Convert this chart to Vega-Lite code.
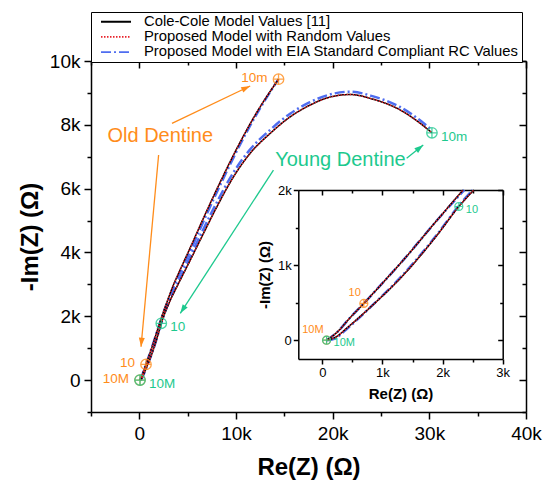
{
  "$schema": "https://vega.github.io/schema/vega-lite/v6.json",
  "width": 435,
  "height": 351,
  "autosize": "none",
  "padding": {"left": 91, "top": 61, "right": 29, "bottom": 73},
  "background": "white",
  "config": {
    "view": {"stroke": null},
    "font": "Liberation Sans",
    "axis": {"grid": false, "domainColor": "black", "domainWidth": 1.5, "tickColor": "black", "tickWidth": 1.5, "labelColor": "black", "titleColor": "black", "labelFont": "Liberation Sans", "titleFont": "Liberation Sans", "labelOverlap": false, "labelFlush": false}
  },
  "datasets": {
    "curves": [
      {"model": "CC", "s": "Old", "re": 70, "im": 0}, {"model": "CC", "s": "Old", "re": 250, "im": 110}, {"model": "CC", "s": "Old", "re": 450, "im": 290}, {"model": "CC", "s": "Old", "re": 690, "im": 490}, {"model": "CC", "s": "Old", "re": 1000, "im": 760}, {"model": "CC", "s": "Old", "re": 1350, "im": 1070}, {"model": "CC", "s": "Old", "re": 1900, "im": 1590}, {"model": "CC", "s": "Old", "re": 2340, "im": 2000}, {"model": "CC", "s": "Old", "re": 2900, "im": 2480}, {"model": "CC", "s": "Old", "re": 3500, "im": 2960}, {"model": "CC", "s": "Old", "re": 4200, "im": 3440}, {"model": "CC", "s": "Old", "re": 5270, "im": 4150}, {"model": "CC", "s": "Old", "re": 6820, "im": 5200}, {"model": "CC", "s": "Old", "re": 8440, "im": 6250}, {"model": "CC", "s": "Old", "re": 10160, "im": 7300}, {"model": "CC", "s": "Old", "re": 12090, "im": 8360}, {"model": "CC", "s": "Old", "re": 14400, "im": 9430},
      {"model": "RND", "s": "Old", "re": 70, "im": 0}, {"model": "RND", "s": "Old", "re": 250, "im": 110}, {"model": "RND", "s": "Old", "re": 450, "im": 290}, {"model": "RND", "s": "Old", "re": 690, "im": 490}, {"model": "RND", "s": "Old", "re": 1000, "im": 760}, {"model": "RND", "s": "Old", "re": 1350, "im": 1070}, {"model": "RND", "s": "Old", "re": 1900, "im": 1590}, {"model": "RND", "s": "Old", "re": 2340, "im": 2000}, {"model": "RND", "s": "Old", "re": 2900, "im": 2480}, {"model": "RND", "s": "Old", "re": 3500, "im": 2960}, {"model": "RND", "s": "Old", "re": 4200, "im": 3440}, {"model": "RND", "s": "Old", "re": 5270, "im": 4150}, {"model": "RND", "s": "Old", "re": 6820, "im": 5200}, {"model": "RND", "s": "Old", "re": 8440, "im": 6250}, {"model": "RND", "s": "Old", "re": 10160, "im": 7300}, {"model": "RND", "s": "Old", "re": 12090, "im": 8360}, {"model": "RND", "s": "Old", "re": 14400, "im": 9430},
      {"model": "EIA", "s": "Old", "re": 70, "im": 0}, {"model": "EIA", "s": "Old", "re": 250, "im": 110}, {"model": "EIA", "s": "Old", "re": 450, "im": 290}, {"model": "EIA", "s": "Old", "re": 690, "im": 490}, {"model": "EIA", "s": "Old", "re": 1000, "im": 760}, {"model": "EIA", "s": "Old", "re": 1350, "im": 1070}, {"model": "EIA", "s": "Old", "re": 1900, "im": 1590}, {"model": "EIA", "s": "Old", "re": 2360, "im": 2000}, {"model": "EIA", "s": "Old", "re": 2950, "im": 2470}, {"model": "EIA", "s": "Old", "re": 3600, "im": 2960}, {"model": "EIA", "s": "Old", "re": 4330, "im": 3440}, {"model": "EIA", "s": "Old", "re": 5420, "im": 4150}, {"model": "EIA", "s": "Old", "re": 6970, "im": 5200}, {"model": "EIA", "s": "Old", "re": 8580, "im": 6250}, {"model": "EIA", "s": "Old", "re": 10280, "im": 7300}, {"model": "EIA", "s": "Old", "re": 12180, "im": 8360}, {"model": "EIA", "s": "Old", "re": 14400, "im": 9430},
      {"model": "CC", "s": "Young", "re": 70, "im": 0}, {"model": "CC", "s": "Young", "re": 220, "im": 40}, {"model": "CC", "s": "Young", "re": 420, "im": 170}, {"model": "CC", "s": "Young", "re": 800, "im": 440}, {"model": "CC", "s": "Young", "re": 1350, "im": 870}, {"model": "CC", "s": "Young", "re": 1900, "im": 1390}, {"model": "CC", "s": "Young", "re": 2270, "im": 1780}, {"model": "CC", "s": "Young", "re": 2520, "im": 2000}, {"model": "CC", "s": "Young", "re": 3150, "im": 2470}, {"model": "CC", "s": "Young", "re": 3890, "im": 2930}, {"model": "CC", "s": "Young", "re": 5270, "im": 3760}, {"model": "CC", "s": "Young", "re": 6640, "im": 4600}, {"model": "CC", "s": "Young", "re": 8020, "im": 5430}, {"model": "CC", "s": "Young", "re": 9740, "im": 6370}, {"model": "CC", "s": "Young", "re": 11470, "im": 7110}, {"model": "CC", "s": "Young", "re": 13530, "im": 7730}, {"model": "CC", "s": "Young", "re": 15600, "im": 8250}, {"model": "CC", "s": "Young", "re": 17670, "im": 8620}, {"model": "CC", "s": "Young", "re": 19500, "im": 8850}, {"model": "CC", "s": "Young", "re": 21800, "im": 8950}, {"model": "CC", "s": "Young", "re": 24200, "im": 8800}, {"model": "CC", "s": "Young", "re": 26960, "im": 8470}, {"model": "CC", "s": "Young", "re": 29000, "im": 8060}, {"model": "CC", "s": "Young", "re": 30270, "im": 7750},
      {"model": "RND", "s": "Young", "re": 70, "im": 0}, {"model": "RND", "s": "Young", "re": 220, "im": 40}, {"model": "RND", "s": "Young", "re": 420, "im": 170}, {"model": "RND", "s": "Young", "re": 800, "im": 440}, {"model": "RND", "s": "Young", "re": 1350, "im": 870}, {"model": "RND", "s": "Young", "re": 1900, "im": 1390}, {"model": "RND", "s": "Young", "re": 2270, "im": 1780}, {"model": "RND", "s": "Young", "re": 2520, "im": 2000}, {"model": "RND", "s": "Young", "re": 3150, "im": 2470}, {"model": "RND", "s": "Young", "re": 3890, "im": 2930}, {"model": "RND", "s": "Young", "re": 5270, "im": 3760}, {"model": "RND", "s": "Young", "re": 6640, "im": 4600}, {"model": "RND", "s": "Young", "re": 8020, "im": 5430}, {"model": "RND", "s": "Young", "re": 9740, "im": 6370}, {"model": "RND", "s": "Young", "re": 11470, "im": 7110}, {"model": "RND", "s": "Young", "re": 13530, "im": 7730}, {"model": "RND", "s": "Young", "re": 15600, "im": 8250}, {"model": "RND", "s": "Young", "re": 17670, "im": 8620}, {"model": "RND", "s": "Young", "re": 19500, "im": 8850}, {"model": "RND", "s": "Young", "re": 21800, "im": 8950}, {"model": "RND", "s": "Young", "re": 24200, "im": 8800}, {"model": "RND", "s": "Young", "re": 26960, "im": 8470}, {"model": "RND", "s": "Young", "re": 29000, "im": 8060}, {"model": "RND", "s": "Young", "re": 30270, "im": 7750},
      {"model": "EIA", "s": "Young", "re": 70, "im": 0}, {"model": "EIA", "s": "Young", "re": 200, "im": 20}, {"model": "EIA", "s": "Young", "re": 420, "im": 160}, {"model": "EIA", "s": "Young", "re": 800, "im": 440}, {"model": "EIA", "s": "Young", "re": 1350, "im": 880}, {"model": "EIA", "s": "Young", "re": 1900, "im": 1400}, {"model": "EIA", "s": "Young", "re": 2270, "im": 1790}, {"model": "EIA", "s": "Young", "re": 2500, "im": 2000}, {"model": "EIA", "s": "Young", "re": 3100, "im": 2480}, {"model": "EIA", "s": "Young", "re": 3850, "im": 2960}, {"model": "EIA", "s": "Young", "re": 5200, "im": 3830}, {"model": "EIA", "s": "Young", "re": 6560, "im": 4690}, {"model": "EIA", "s": "Young", "re": 7930, "im": 5520}, {"model": "EIA", "s": "Young", "re": 9640, "im": 6460}, {"model": "EIA", "s": "Young", "re": 11380, "im": 7200}, {"model": "EIA", "s": "Young", "re": 13450, "im": 7820}, {"model": "EIA", "s": "Young", "re": 15550, "im": 8340}, {"model": "EIA", "s": "Young", "re": 17650, "im": 8710}, {"model": "EIA", "s": "Young", "re": 19500, "im": 8930}, {"model": "EIA", "s": "Young", "re": 21800, "im": 9040}, {"model": "EIA", "s": "Young", "re": 24200, "im": 8890}, {"model": "EIA", "s": "Young", "re": 26960, "im": 8560}, {"model": "EIA", "s": "Young", "re": 29000, "im": 8150}, {"model": "EIA", "s": "Young", "re": 30200, "im": 7850}
    ],
    "markers": [
      {"s": "Old", "label": "10M", "re": 70, "im": 0},
      {"s": "Old", "label": "10", "re": 690, "im": 490},
      {"s": "Old", "label": "10m", "re": 14400, "im": 9430},
      {"s": "Young", "label": "10M", "re": 70, "im": 0},
      {"s": "Young", "label": "10", "re": 2270, "im": 1780},
      {"s": "Young", "label": "10m", "re": 30270, "im": 7750}
    ],
    "arrows": [
      {"id": 1, "s": "Old", "re": 3378, "im": 8047, "re2": 11467, "im2": 9216},
      {"id": 2, "s": "Old", "re": 1994, "im": 7053, "re2": 176, "im2": 1044},
      {"id": 3, "s": "Young", "re": 13874, "im": 6583, "re2": 4236, "im2": 2091},
      {"id": 4, "s": "Young", "re": 27655, "im": 6950, "re2": 29370, "im2": 7367}
    ],
    "notes": [
      {"s": "Old", "t": "Old Dentine", "re": 2170, "im": 7650},
      {"s": "Young", "t": "Young Dentine", "re": 20800, "im": 6900}
    ]
  },
  "layer": [
    {
      "encoding": {
        "x": {"field": "re", "type": "quantitative", "scale": {"domain": [-5000, 40000], "nice": false, "zero": false},
          "axis": {"orient": "bottom", "values": [-5000, 0, 5000, 10000, 15000, 20000, 25000, 30000, 35000, 40000], "labelExpr": "datum.value % 10000 === 0 ? format(datum.value, '~s') : ''", "tickSize": {"condition": {"test": "datum.value % 10000 === 0", "value": 7}, "value": 4}, "labelFontSize": 19, "labelPadding": 5, "title": "Re(Z) (Ω)", "titleFontSize": 24, "titleFontWeight": "bold", "titleBaseline": "alphabetic", "titleY": 62}},
        "y": {"field": "im", "type": "quantitative", "scale": {"domain": [-1000, 10000], "nice": false, "zero": false},
          "axis": {"orient": "left", "values": [-1000, 0, 1000, 2000, 3000, 4000, 5000, 6000, 7000, 8000, 9000, 10000], "labelExpr": "datum.value % 2000 === 0 ? format(datum.value, '~s') : ''", "tickSize": {"condition": {"test": "datum.value % 2000 === 0", "value": 7}, "value": 4}, "labelFontSize": 19, "labelPadding": 4, "labelBaseline": "middle", "title": "-Im(Z) (Ω)", "titleFontSize": 24, "titleFontWeight": "bold", "titleAngle": 270, "titleBaseline": "middle", "titleX": -61}}
      },
      "layer": [
        {"data": {"name": "curves"}, "transform": [{"filter": "datum.model == 'EIA'"}],
          "mark": {"type": "line", "strokeWidth": 2.5, "clip": true, "interpolate": "monotone"},
          "encoding": {"detail": {"field": "s"},
            "color": {"field": "model", "type": "nominal", "scale": {"domain": ["CC", "RND", "EIA"], "range": ["#000000", "#e8232b", "#4f6df0"]},
              "legend": {"orient": "none", "legendX": 0, "legendY": -49, "title": null, "labelExpr": "datum.label == 'CC' ? 'Cole-Cole Model Values [11]' : datum.label == 'RND' ? 'Proposed Model with Random Values' : 'Proposed Model with EIA Standard Compliant RC Values'", "labelFontSize": 14.8, "labelFont": "Liberation Sans", "labelColor": "black", "labelLimit": 0, "symbolType": "stroke", "symbolSize": 900, "symbolStrokeWidth": 1.8, "clipHeight": 13.5, "rowPadding": -0.8, "padding": 3, "strokeColor": "black", "fillColor": "white", "labelOffset": 12, "symbolOffset": 6}},
            "strokeDash": {"field": "model", "type": "nominal", "scale": {"domain": ["CC", "RND", "EIA"], "range": [[1, 0], [1.5, 1.5], [10, 3, 2, 3]]},
              "legend": {"orient": "none", "legendX": 0, "legendY": -49, "title": null, "labelExpr": "datum.label == 'CC' ? 'Cole-Cole Model Values [11]' : datum.label == 'RND' ? 'Proposed Model with Random Values' : 'Proposed Model with EIA Standard Compliant RC Values'", "labelFontSize": 14.8, "labelFont": "Liberation Sans", "labelColor": "black", "labelLimit": 0, "symbolType": "stroke", "symbolSize": 900, "symbolStrokeWidth": 1.8, "clipHeight": 13.5, "rowPadding": -0.8, "padding": 3, "strokeColor": "black", "fillColor": "white", "labelOffset": 12, "symbolOffset": 6}}}},
        {"data": {"name": "curves"}, "transform": [{"filter": "datum.model == 'CC'"}],
          "mark": {"type": "line", "strokeWidth": 1.5, "clip": true, "interpolate": "monotone"},
          "encoding": {"detail": {"field": "s"}, "color": {"field": "model", "type": "nominal"}, "strokeDash": {"field": "model", "type": "nominal"}}},
        {"data": {"name": "curves"}, "transform": [{"filter": "datum.model == 'RND'"}],
          "mark": {"type": "line", "strokeWidth": 1.4, "clip": true, "interpolate": "monotone"},
          "encoding": {"detail": {"field": "s"}, "color": {"field": "model", "type": "nominal"}, "strokeDash": {"field": "model", "type": "nominal"}}},
        {"data": {"name": "arrows"}, "mark": {"type": "rule", "strokeWidth": 1.3},
          "encoding": {"x2": {"field": "re2"}, "y2": {"field": "im2"}, "stroke": {"field": "s", "type": "nominal", "scale": {"domain": ["Old", "Young"], "range": ["#ff8c1a", "#1dc98e"]}, "legend": null}}},
        {"data": {"name": "arrows"}, "transform": [{"filter": "datum.id == 1"}], "mark": {"type": "point", "shape": "M0,0L-0.6,1.8L0.6,1.8Z", "filled": true, "size": 100, "angle": 64.5, "opacity": 1},
          "encoding": {"x": {"field": "re2", "type": "quantitative"}, "y": {"field": "im2", "type": "quantitative"}, "fill": {"field": "s", "type": "nominal", "scale": {"domain": ["Old", "Young"], "range": ["#ff8c1a", "#1dc98e"]}, "legend": null}}},
        {"data": {"name": "arrows"}, "transform": [{"filter": "datum.id == 2"}], "mark": {"type": "point", "shape": "M0,0L-0.6,1.8L0.6,1.8Z", "filled": true, "size": 100, "angle": 185.2, "opacity": 1},
          "encoding": {"x": {"field": "re2", "type": "quantitative"}, "y": {"field": "im2", "type": "quantitative"}, "fill": {"field": "s", "type": "nominal", "legend": null}}},
        {"data": {"name": "arrows"}, "transform": [{"filter": "datum.id == 3"}], "mark": {"type": "point", "shape": "M0,0L-0.6,1.8L0.6,1.8Z", "filled": true, "size": 100, "angle": 213.1, "opacity": 1},
          "encoding": {"x": {"field": "re2", "type": "quantitative"}, "y": {"field": "im2", "type": "quantitative"}, "fill": {"field": "s", "type": "nominal", "legend": null}}},
        {"data": {"name": "arrows"}, "transform": [{"filter": "datum.id == 4"}], "mark": {"type": "point", "shape": "M0,0L-0.6,1.8L0.6,1.8Z", "filled": true, "size": 100, "angle": 51.3, "opacity": 1},
          "encoding": {"x": {"field": "re2", "type": "quantitative"}, "y": {"field": "im2", "type": "quantitative"}, "fill": {"field": "s", "type": "nominal", "legend": null}}},
        {"data": {"name": "notes"}, "mark": {"type": "text", "fontSize": 20, "font": "Liberation Sans", "align": "center", "baseline": "middle"},
          "encoding": {"text": {"field": "t"}, "fill": {"field": "s", "type": "nominal", "legend": null}}},
        {"data": {"name": "markers"}, "mark": {"type": "point", "shape": "M-1,0A1,1 0 1,1 1,0A1,1 0 1,1 -1,0M-1,0L1,0M0,-1L0,1", "filled": false, "size": 110, "strokeWidth": 1.3, "opacity": 0.8},
          "encoding": {"stroke": {"field": "s", "type": "nominal", "legend": null}}},
        {"data": {"name": "markers"}, "transform": [{"filter": "datum.s == 'Old'"}], "mark": {"type": "text", "fontSize": 13.5, "font": "Liberation Sans", "align": "right", "baseline": "middle", "dx": -11, "dy": -1},
          "encoding": {"text": {"field": "label"}, "fill": {"field": "s", "type": "nominal", "legend": null}}},
        {"data": {"name": "markers"}, "transform": [{"filter": "datum.s == 'Young'"}], "mark": {"type": "text", "fontSize": 13.5, "font": "Liberation Sans", "align": "left", "baseline": "middle", "dx": 9, "dy": 4},
          "encoding": {"text": {"field": "label"}, "fill": {"field": "s", "type": "nominal", "legend": null}}}
      ]
    },
    {
      "data": {"name": "markers"},
      "mark": {"type": "point", "opacity": 0},
      "encoding": {
        "x": {"field": "re", "type": "quantitative", "scale": {"domain": [-5000, 40000], "nice": false, "zero": false},
          "axis": {"orient": "top", "values": [-5000, 0, 5000, 10000, 15000, 20000, 25000, 30000, 35000, 40000], "labels": false, "title": null, "tickSize": {"condition": {"test": "datum.value % 10000 === 0", "value": -7}, "value": -4}}},
        "y": {"field": "im", "type": "quantitative", "scale": {"domain": [-1000, 10000], "nice": false, "zero": false},
          "axis": {"orient": "right", "values": [-1000, 0, 1000, 2000, 3000, 4000, 5000, 6000, 7000, 8000, 9000, 10000], "labels": false, "title": null, "tickSize": {"condition": {"test": "datum.value % 2000 === 0", "value": -7}, "value": -4}}}
      }
    },
    {
      "encoding": {
        "x": {"field": "re", "type": "quantitative", "scale": {"domain": [-400, 3000], "range": [207.3, 411.7], "nice": false, "zero": false},
          "axis": {"orient": "bottom", "offset": -53, "values": [0, 500, 1000, 1500, 2000, 2500, 3000], "labelExpr": "datum.value % 1000 === 0 ? format(datum.value, '~s') : ''", "tickSize": {"condition": {"test": "datum.value % 1000 === 0", "value": 5}, "value": 3}, "labelFontSize": 13, "labelPadding": 2, "title": "Re(Z) (Ω)", "titleFontSize": 15, "titleFontWeight": "bold", "titleBaseline": "alphabetic", "titleY": 39}},
        "y": {"field": "im", "type": "quantitative", "scale": {"domain": [-250, 2000], "range": [298, 129], "nice": false, "zero": false},
          "axis": {"orient": "left", "offset": -207.3, "values": [0, 500, 1000, 1500, 2000], "labelExpr": "datum.value % 1000 === 0 ? format(datum.value, '~s') : ''", "tickSize": {"condition": {"test": "datum.value % 1000 === 0", "value": 5}, "value": 3}, "labelFontSize": 13, "labelPadding": 2, "labelBaseline": "middle", "title": "-Im(Z) (Ω)", "titleFontSize": 15, "titleFontWeight": "bold", "titleAngle": 270, "titleBaseline": "middle", "titleX": -34}}
      },
      "layer": [
        {"data": {"name": "curves"}, "transform": [{"filter": "datum.model == 'EIA' && datum.im <= 2000"}],
          "mark": {"type": "line", "strokeWidth": 2.5, "interpolate": "monotone"},
          "encoding": {"detail": {"field": "s"}, "color": {"field": "model", "type": "nominal"}, "strokeDash": {"field": "model", "type": "nominal"}}},
        {"data": {"name": "curves"}, "transform": [{"filter": "datum.model == 'CC' && datum.im <= 2000"}],
          "mark": {"type": "line", "strokeWidth": 1.5, "interpolate": "monotone"},
          "encoding": {"detail": {"field": "s"}, "color": {"field": "model", "type": "nominal"}, "strokeDash": {"field": "model", "type": "nominal"}}},
        {"data": {"name": "curves"}, "transform": [{"filter": "datum.model == 'RND' && datum.im <= 2000"}],
          "mark": {"type": "line", "strokeWidth": 1.4, "interpolate": "monotone"},
          "encoding": {"detail": {"field": "s"}, "color": {"field": "model", "type": "nominal"}, "strokeDash": {"field": "model", "type": "nominal"}}},
        {"data": {"name": "markers"}, "transform": [{"filter": "datum.label != '10m'"}], "mark": {"type": "point", "shape": "M-1,0A1,1 0 1,1 1,0A1,1 0 1,1 -1,0M-1,0L1,0M0,-1L0,1", "filled": false, "size": 64, "strokeWidth": 1.2, "opacity": 0.8},
          "encoding": {"stroke": {"field": "s", "type": "nominal", "legend": null}}},
        {"data": {"name": "markers"}, "transform": [{"filter": "datum.s == 'Old' && datum.label != '10m'"}], "mark": {"type": "text", "fontSize": 11, "font": "Liberation Sans", "align": "right", "baseline": "middle", "dx": -3, "dy": -10},
          "encoding": {"text": {"field": "label"}, "fill": {"field": "s", "type": "nominal", "legend": null}}},
        {"data": {"name": "markers"}, "transform": [{"filter": "datum.s == 'Young' && datum.label != '10m'"}], "mark": {"type": "text", "fontSize": 11, "font": "Liberation Sans", "align": "left", "baseline": "middle", "dx": 7, "dy": 3},
          "encoding": {"text": {"field": "label"}, "fill": {"field": "s", "type": "nominal", "legend": null}}}
      ]
    },
    {
      "data": {"name": "markers"},
      "mark": {"type": "point", "opacity": 0},
      "encoding": {
        "x": {"field": "re", "type": "quantitative", "scale": {"domain": [-400, 3000], "range": [207.3, 411.7], "nice": false, "zero": false},
          "axis": {"orient": "top", "offset": -129, "values": [0, 500, 1000, 1500, 2000, 2500, 3000], "labels": false, "title": null, "tickSize": {"condition": {"test": "datum.value % 1000 === 0", "value": -5}, "value": -3}}},
        "y": {"field": "im", "type": "quantitative", "scale": {"domain": [-250, 2000], "range": [298, 129], "nice": false, "zero": false},
          "axis": {"orient": "right", "offset": -23.3, "values": [0, 500, 1000, 1500, 2000], "labels": false, "title": null, "tickSize": {"condition": {"test": "datum.value % 1000 === 0", "value": -5}, "value": -3}}}
      }
    }
  ],
  "resolve": {"scale": {"x": "independent", "y": "independent"}}
}
